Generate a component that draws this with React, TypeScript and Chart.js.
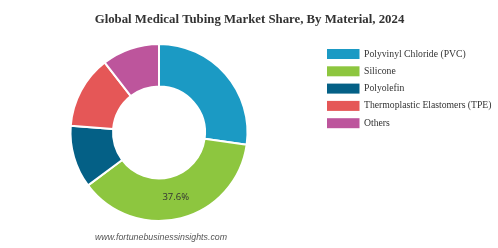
import React, { useEffect, useRef } from "react";
import { Chart, registerables } from "chart.js";

Chart.register(...registerables);

const TITLE = "Global Medical Tubing Market Share, By Material, 2024";
const FOOTER = "www.fortunebusinessinsights.com";
const categories = [
  "Polyvinyl Chloride (PVC)",
  "Silicone",
  "Polyolefin",
  "Thermoplastic Elastomers (TPE)",
  "Others",
];
const shares = [27.2, 37.6, 11.4, 13.3, 10.5];
const colors = ["#1b9ac4", "#8dc63f", "#046086", "#e55757", "#bd559c"];
const labelledIndex = 1;

const overlayPlugin = {
  id: "overlay",
  afterDraw(chart: any) {
    const ctx = chart.ctx;
    ctx.save();
    // title
    ctx.fillStyle = "#333333";
    ctx.font = "bold 12.8px 'Liberation Serif', serif";
    ctx.textAlign = "center";
    ctx.textBaseline = "middle";
    ctx.fillText(TITLE, 249.5, 20);

    // slice label
    const meta = chart.getDatasetMeta(0);
    const arc = meta.data[labelledIndex];
    if (arc) {
      const p = arc.tooltipPosition();
      ctx.font = "9.5px 'Open Sans', sans-serif";
      ctx.fillStyle = "#333333";
      ctx.fillText(shares[labelledIndex].toFixed(1) + "%", p.x, p.y);
    }

    // legend
    ctx.textAlign = "left";
    ctx.font = "9.7px 'Liberation Serif', serif";
    categories.forEach((c, i) => {
      const y = 54 + i * 17.3;
      ctx.fillStyle = colors[i];
      ctx.fillRect(327, y - 5, 32.5, 10);
      ctx.fillStyle = "#333333";
      ctx.fillText(c, 364, y);
    });

    // footer
    ctx.font = "italic 8.8px 'Liberation Sans', Arial, sans-serif";
    ctx.fillStyle = "#555555";
    ctx.fillText(FOOTER, 95, 238);
    ctx.restore();
  },
};

export default function App() {
  const ref = useRef<HTMLCanvasElement>(null);
  useEffect(() => {
    if (!ref.current) return;
    const chart = new Chart(ref.current, {
      type: "doughnut",
      data: {
        labels: categories,
        datasets: [
          {
            data: shares,
            backgroundColor: colors,
            borderColor: "#ffffff",
            borderWidth: 2,
          },
        ],
      },
      options: {
        responsive: false,
        animation: false,
        cutout: "52%",
        layout: { padding: { left: 69.5, right: 249.5, top: 43, bottom: 26 } },
        plugins: {
          legend: { display: false },
          title: { display: false },
          tooltip: { enabled: false },
        },
      },
      plugins: [overlayPlugin],
    });
    return () => chart.destroy();
  }, []);
  return (
    <div style={{ position: "fixed", left: 0, top: 0, width: 498, height: 248, background: "#fff" }}>
      <canvas ref={ref} width={498} height={248} />
    </div>
  );
}
